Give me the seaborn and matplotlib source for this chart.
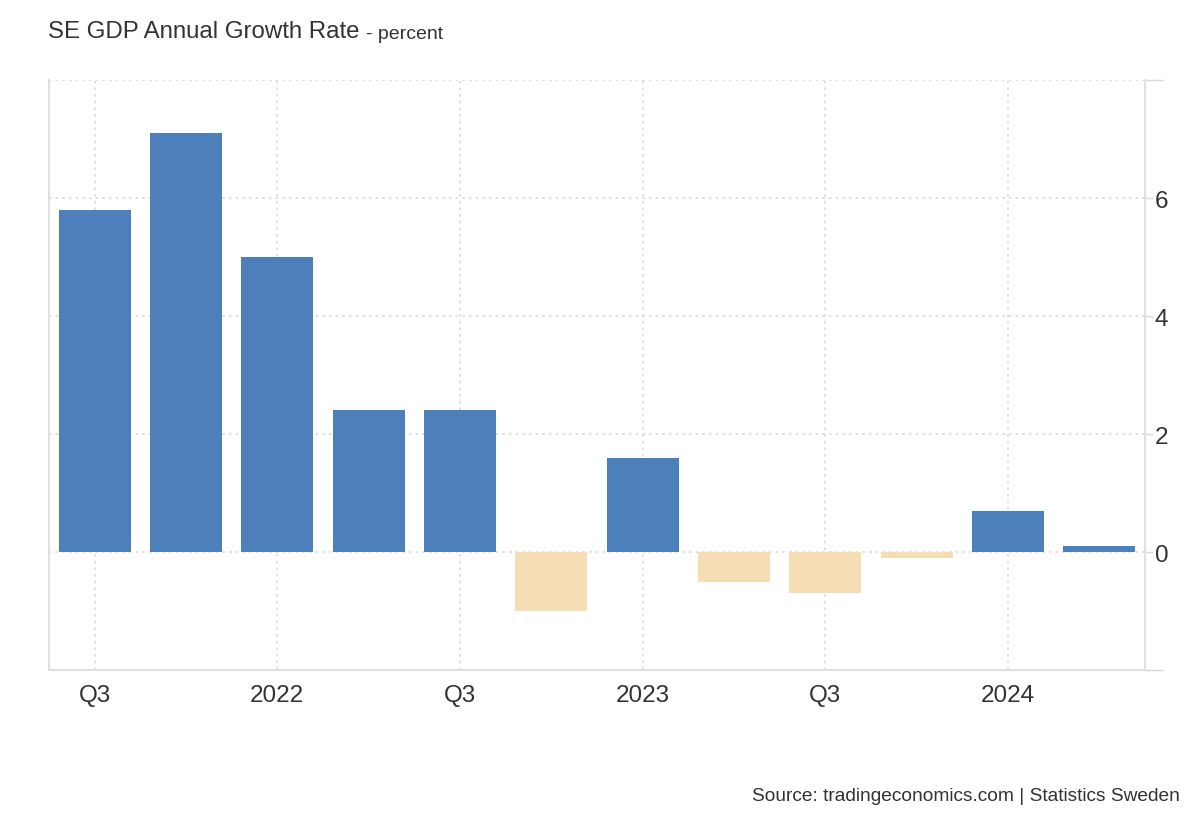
import matplotlib
matplotlib.use("Agg")
import matplotlib.pyplot as plt
import seaborn as sns
import pandas as pd

quarters = ["2021Q3", "2021Q4", "2022Q1", "2022Q2", "2022Q3", "2022Q4",
            "2023Q1", "2023Q2", "2023Q3", "2023Q4", "2024Q1", "2024Q2"]
growth = [5.8, 7.1, 5.0, 2.4, 2.4, -1.0, 1.6, -0.5, -0.7, -0.1, 0.7, 0.1]
tick_labels = ["Q3", "", "2022", "", "Q3", "", "2023", "", "Q3", "", "2024", ""]

df = pd.DataFrame({"quarter": quarters, "growth": growth})
df["sign"] = ["pos" if v >= 0 else "neg" for v in df["growth"]]

sns.set_style("white")
plt.rcParams["font.family"] = ["Liberation Sans", "DejaVu Sans"]

TEXT = "#333333"
GRID = "#d9d9d9"

fig = plt.figure(figsize=(12, 8.2), dpi=100)
ax = fig.add_axes([0.0408, 0.1817, 0.9134, 0.7195])

sns.barplot(data=df, x="quarter", y="growth", hue="sign",
            palette={"pos": "#4d80bb", "neg": "#f5deb3"}, saturation=1,
            linewidth=0, dodge=False, width=0.79, legend=False, ax=ax, zorder=3)

ax.set_xlim(-0.5, 11.5)
ax.set_ylim(-2, 8)
ax.set_xlabel("")
ax.set_ylabel("")

ax.set_xticks(range(len(quarters)))
ax.set_xticklabels(tick_labels)
ax.set_yticks([0, 2, 4, 6])
ax.set_yticks([-2, 8], minor=True)
ax.yaxis.tick_right()

ax.tick_params(axis="x", length=0, labelsize=17.5, colors=TEXT, pad=10)
ax.tick_params(axis="y", which="major", length=6, width=1, color=GRID,
               labelsize=17.5, labelcolor=TEXT, pad=1)
ax.tick_params(axis="y", which="minor", length=13, width=1, color=GRID)

# grid: horizontal at every y tick, vertical only at labelled quarters
for y in [0, 2, 4, 6, 8]:
    ax.axhline(y, color=GRID, linestyle=(0, (1.5, 2.5)), linewidth=1.2, zorder=1)
for i, lab in enumerate(tick_labels):
    if lab:
        ax.axvline(i, color=GRID, linestyle=(0, (1.5, 2.5)), linewidth=1.2, zorder=1)

ax.spines["top"].set_visible(False)
for side in ["left", "right", "bottom"]:
    ax.spines[side].set_color("#e0e0e0")
    ax.spines[side].set_linewidth(1.5)

t = fig.text(0.04, 0.961, "SE GDP Annual Growth Rate", fontsize=17.3, color=TEXT,
             va="center", ha="left")
fig.canvas.draw()
bb = t.get_window_extent().transformed(fig.transFigure.inverted())
fig.text(bb.x1 + 0.005, 0.958, "- percent", fontsize=14, color=TEXT,
         va="center", ha="left")
fig.text(0.983, 0.029, "Source: tradingeconomics.com | Statistics Sweden",
         fontsize=13.8, color=TEXT, ha="right", va="center")

fig.savefig("out.png", dpi=100)
